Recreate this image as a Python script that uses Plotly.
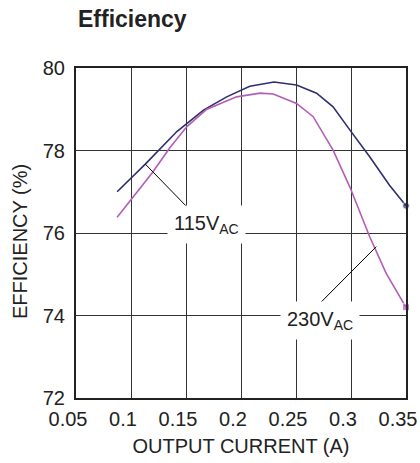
import plotly.graph_objects as go

# Data
current_115 = [0.0874, 0.113, 0.1417, 0.1659, 0.187, 0.208, 0.230, 0.2505, 0.2687, 0.2837, 0.2989, 0.317, 0.335, 0.35]
eff_115 = [77.0, 77.67, 78.46, 78.98, 79.30, 79.56, 79.66, 79.59, 79.39, 79.06, 78.50, 77.85, 77.16, 76.66]

current_230 = [0.0874, 0.119, 0.1357, 0.1508, 0.169, 0.196, 0.2173, 0.2293, 0.2505, 0.2656, 0.2837, 0.2989, 0.317, 0.332, 0.35]
eff_230 = [76.38, 77.45, 78.08, 78.58, 79.0, 79.30, 79.39, 79.37, 79.14, 78.82, 78.01, 77.12, 75.91, 75.02, 74.20]

x_ticks = [0.05, 0.1, 0.15, 0.2, 0.25, 0.3, 0.35]
x_tick_labels = ["0.05", "0.1", "0.15", "0.2", "0.25", "0.3", "0.35"]
y_ticks = [72, 74, 76, 78, 80]

label_115 = "115V<sub>AC</sub>"
label_230 = "230V<sub>AC</sub>"
# leader lines: (curve point, label end)
leader_115 = [(0.113, 77.67), (0.155, 76.52)]
leader_230 = [(0.323, 75.67), (0.270, 74.25)]
label_pos_115 = (0.169, 76.2)
label_pos_230 = (0.2717, 73.88)

FONT = "Liberation Sans, Arial, sans-serif"
BLUE = "#2e2f6b"
PURPLE = "#b35db6"
TXT = "#222"

fig = go.Figure()
fig.add_trace(go.Scatter(
    x=current_115, y=eff_115, mode="lines+markers",
    line=dict(color=BLUE, width=1.6),
    marker=dict(symbol="circle", color=BLUE,
                size=[0] * (len(current_115) - 1) + [7]),
    showlegend=False, cliponaxis=False))
fig.add_trace(go.Scatter(
    x=current_230, y=eff_230, mode="lines+markers",
    line=dict(color=PURPLE, width=1.6),
    marker=dict(symbol="square", color=PURPLE,
                size=[0] * (len(current_230) - 1) + [7]),
    showlegend=False, cliponaxis=False))

for (p0, p1) in (leader_115, leader_230):
    fig.add_shape(type="line", xref="x", yref="y",
                  x0=p0[0], y0=p0[1], x1=p1[0], y1=p1[1],
                  line=dict(color="black", width=1))

for txt, pos in ((label_115, label_pos_115), (label_230, label_pos_230)):
    fig.add_annotation(x=pos[0], y=pos[1], xref="x", yref="y", text=txt,
                       showarrow=False, bgcolor="white", borderpad=6,
                       font=dict(family=FONT, size=20, color=TXT),
                       xanchor="center", yanchor="middle")

axis_common = dict(
    showline=True, linecolor="#222", linewidth=2, mirror=True,
    showgrid=True, gridcolor="#333", gridwidth=1, zeroline=False,
    ticks="", tickfont=dict(family=FONT, size=20, color=TXT),
    automargin=False,
)

fig.update_xaxes(range=[0.05, 0.35], tickvals=x_ticks, ticktext=x_tick_labels,
                 title=dict(text="OUTPUT CURRENT (A)", font=dict(family=FONT, size=20, color=TXT), standoff=10),
                 ticklabelshift=-8, ticklabelstandoff=2,
                 **axis_common)
fig.update_yaxes(range=[72, 80], tickvals=y_ticks, ticklabelstandoff=5,
                 **axis_common)

fig.update_layout(
    width=420, height=463,
    margin=dict(l=76, r=14, t=68, b=65),
    plot_bgcolor="white", paper_bgcolor="white",
)
# y-axis title (as annotation so it can sit slightly below centre, as in the reference)
fig.add_annotation(text="EFFICIENCY (%)", xref="paper", yref="paper",
                   x=0, y=0.5, xanchor="center", yanchor="middle",
                   xshift=-56, yshift=-9, textangle=-90,
                   showarrow=False, font=dict(family=FONT, size=20, color=TXT))
fig.add_annotation(text="<b>Efficiency</b>", xref="paper", yref="paper",
                   x=0, y=1, xanchor="left", yanchor="bottom", yshift=34,
                   showarrow=False, font=dict(family=FONT, size=23, color=TXT))

fig.write_html("out.html", config={"displayModeBar": False},
               post_script="document.body.style.margin='0';document.body.style.overflow='hidden';")
